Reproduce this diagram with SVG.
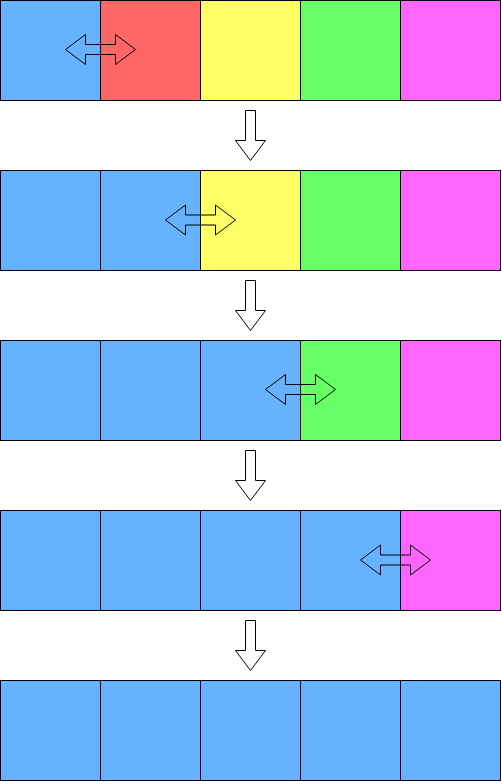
<svg xmlns="http://www.w3.org/2000/svg" width="502" height="784" viewBox="0 0 502 784">
<style>
.c{stroke:#000;stroke-width:1}
.b{fill:#66B2FF}.r{fill:#FF6666}.y{fill:#FFFF66}.g{fill:#66FF66}.m{fill:#FF66FF}
.da{fill:none;stroke:#000;stroke-width:1;stroke-linejoin:miter}
.dn{fill:#fff;stroke:#000;stroke-width:1}
</style>
<defs>
<polygon id="dbl" points="0,15 20,0 20,10 50,10 50,0 70,15 50,30 50,20 20,20 20,30"/>
<polygon id="down" points="245,110 255,110 255,140 265,140 250,160 235,140 245,140"/>
</defs>
<rect width="502" height="784" fill="#fff"/>
<g id="row1">
<rect id="r1c1" class="c b" x="0.5" y="0.5" width="100" height="100"/>
<rect id="r1c2" class="c r" x="100.5" y="0.5" width="100" height="100"/>
<rect id="r1c3" class="c y" x="200.5" y="0.5" width="100" height="100"/>
<rect id="r1c4" class="c g" x="300.5" y="0.5" width="100" height="100"/>
<rect id="r1c5" class="c m" x="400.5" y="0.5" width="100" height="100"/>
</g>
<g id="row2">
<rect id="r2c1" class="c b" x="0.5" y="170.5" width="100" height="100"/>
<rect id="r2c2" class="c b" x="100.5" y="170.5" width="100" height="100"/>
<rect id="r2c3" class="c y" x="200.5" y="170.5" width="100" height="100"/>
<rect id="r2c4" class="c g" x="300.5" y="170.5" width="100" height="100"/>
<rect id="r2c5" class="c m" x="400.5" y="170.5" width="100" height="100"/>
</g>
<g id="row3">
<rect id="r3c1" class="c b" x="0.5" y="340.5" width="100" height="100"/>
<rect id="r3c2" class="c b" x="100.5" y="340.5" width="100" height="100"/>
<rect id="r3c3" class="c b" x="200.5" y="340.5" width="100" height="100"/>
<rect id="r3c4" class="c g" x="300.5" y="340.5" width="100" height="100"/>
<rect id="r3c5" class="c m" x="400.5" y="340.5" width="100" height="100"/>
</g>
<g id="row4">
<rect id="r4c1" class="c b" x="0.5" y="510.5" width="100" height="100"/>
<rect id="r4c2" class="c b" x="100.5" y="510.5" width="100" height="100"/>
<rect id="r4c3" class="c b" x="200.5" y="510.5" width="100" height="100"/>
<rect id="r4c4" class="c b" x="300.5" y="510.5" width="100" height="100"/>
<rect id="r4c5" class="c m" x="400.5" y="510.5" width="100" height="100"/>
</g>
<g id="row5">
<rect id="r5c1" class="c b" x="0.5" y="680.5" width="100" height="100"/>
<rect id="r5c2" class="c b" x="100.5" y="680.5" width="100" height="100"/>
<rect id="r5c3" class="c b" x="200.5" y="680.5" width="100" height="100"/>
<rect id="r5c4" class="c b" x="300.5" y="680.5" width="100" height="100"/>
<rect id="r5c5" class="c b" x="400.5" y="680.5" width="100" height="100"/>
</g>
<g id="swap1"><use href="#dbl" class="da" transform="translate(65.5,34.5)"/></g>
<g id="swap2"><use href="#dbl" class="da" transform="translate(165.5,205)"/></g>
<g id="swap3"><use href="#dbl" class="da" transform="translate(265.5,374.5)"/></g>
<g id="swap4"><use href="#dbl" class="da" transform="translate(360.5,545)"/></g>
<g id="connectors">
<use href="#down" class="dn" transform="translate(0.5,0.5)"/>
<use href="#down" class="dn" transform="translate(0.5,170.5)"/>
<use href="#down" class="dn" transform="translate(0.5,340.5)"/>
<use href="#down" class="dn" transform="translate(0.5,510.5)"/>
</g>
</svg>
